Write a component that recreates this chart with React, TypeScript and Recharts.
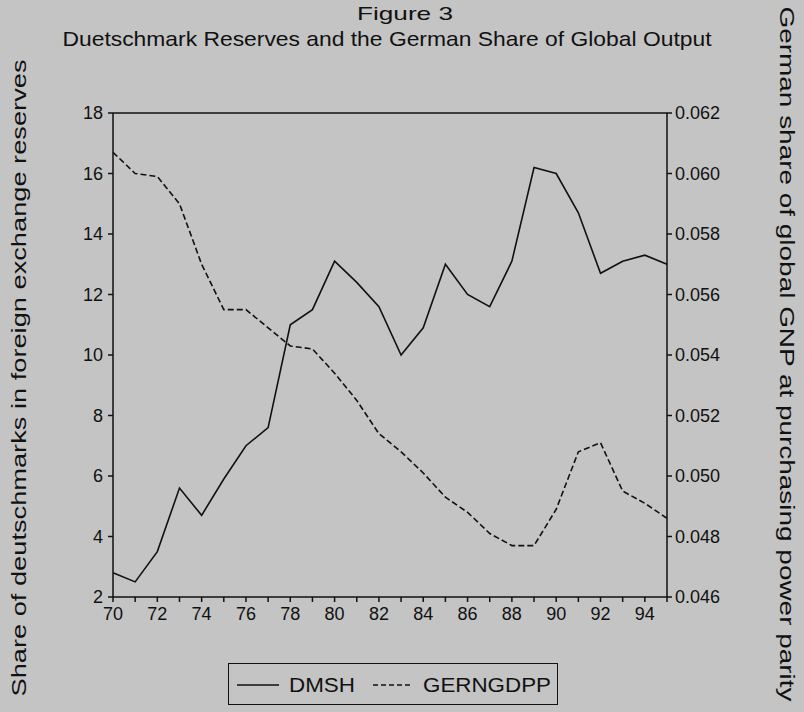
import { LineChart, Line, XAxis, YAxis, ReferenceLine } from 'recharts';

const years = [1970, 1971, 1972, 1973, 1974, 1975, 1976, 1977, 1978, 1979, 1980, 1981, 1982, 1983, 1984, 1985, 1986, 1987, 1988, 1989, 1990, 1991, 1992, 1993, 1994, 1995];

// share of deutschmarks in foreign exchange reserves (left axis)
const dmsh = [2.8, 2.5, 3.5, 5.6, 4.7, 5.9, 7.0, 7.6, 11.0, 11.5, 13.1, 12.4, 11.6, 10.0, 10.9, 13.0, 12.0, 11.6, 13.1, 16.2, 16.0, 14.7, 12.7, 13.1, 13.3, 13.0];

// German share of global GNP at PPP (right axis)
const gerngdpp = [0.0607, 0.06, 0.0599, 0.059, 0.057, 0.0555, 0.0555, 0.0549, 0.0543, 0.0542, 0.0534, 0.0525, 0.0514, 0.0508, 0.0501, 0.0493, 0.0488, 0.0481, 0.0477, 0.0477, 0.0489, 0.0508, 0.0511, 0.0495, 0.0491, 0.0486];

const leftTicks = [2, 4, 6, 8, 10, 12, 14, 16, 18];
const rightTicks = [0.046, 0.048, 0.05, 0.052, 0.054, 0.056, 0.058, 0.06, 0.062];
const labelledYears = [1970, 1972, 1974, 1976, 1978, 1980, 1982, 1984, 1986, 1988, 1990, 1992, 1994];

const data = years.map((y, i) => ({ year: y, DMSH: dmsh[i], GERNGDPP: gerngdpp[i] }));

const FONT = '"Liberation Sans", Arial, sans-serif';
const BG = '#c4c4c4';
const INK = '#111';

export default function App() {
  const tickStyle = { fill: INK, fontSize: 18, fontFamily: FONT };
  return (
    <div style={{ position: 'absolute', left: 0, top: 0, width: 804, height: 712, background: BG, overflow: 'hidden' }}>
      <LineChart
        width={804}
        height={712}
        data={data}
        margin={{ top: 113, right: 47, bottom: 85, left: 63 }}
      >
        <XAxis
          dataKey="year"
          type="number"
          domain={[1970, 1995]}
          ticks={years}
          interval={0}
          tickFormatter={(v: number) => (labelledYears.includes(v) ? String(v % 100) : '')}
          tick={tickStyle}
          stroke={INK}
          strokeWidth={1.5}
          tickSize={5}
          tickMargin={5}
          height={30}
        />
        <YAxis
          yAxisId="left"
          domain={[2, 18]}
          ticks={leftTicks}
          interval={0}
          tick={tickStyle}
          stroke={INK}
          strokeWidth={1.5}
          tickSize={5}
          tickMargin={5}
          width={50}
        />
        <YAxis
          yAxisId="right"
          orientation="right"
          domain={[0.046, 0.062]}
          ticks={rightTicks}
          interval={0}
          tickFormatter={(v: number) => v.toFixed(3)}
          tick={tickStyle}
          stroke={INK}
          strokeWidth={1.5}
          tickSize={5}
          tickMargin={3}
          width={90}
        />
        <ReferenceLine yAxisId="left" y={18} stroke={INK} strokeWidth={1.5} />
        <Line
          yAxisId="left"
          dataKey="DMSH"
          stroke={INK}
          strokeWidth={1.6}
          dot={false}
          type="linear"
          isAnimationActive={false}
        />
        <Line
          yAxisId="right"
          dataKey="GERNGDPP"
          stroke={INK}
          strokeWidth={1.6}
          strokeDasharray="6 3"
          dot={false}
          type="linear"
          isAnimationActive={false}
        />
      </LineChart>

      <svg width={804} height={712} style={{ position: 'absolute', left: 0, top: 0, pointerEvents: 'none' }}>
        <g fontFamily={FONT} fill={INK}>
          <text x={405} y={20} fontSize={19} textAnchor="middle" textLength={96} lengthAdjust="spacingAndGlyphs">
            Figure 3
          </text>
          <text x={387} y={46} fontSize={21} textAnchor="middle" textLength={649} lengthAdjust="spacingAndGlyphs">
            Duetschmark Reserves and the German Share of Global Output
          </text>
          <text
            transform="translate(26 378) rotate(-90)"
            fontSize={21}
            textAnchor="middle"
            textLength={637}
            lengthAdjust="spacingAndGlyphs"
          >
            Share of deutschmarks in foreign exchange reserves
          </text>
          <text
            transform="translate(780 354) rotate(90)"
            fontSize={21}
            textAnchor="middle"
            textLength={695}
            lengthAdjust="spacingAndGlyphs"
          >
            German share of global GNP at purchasing power parity
          </text>
        </g>
      </svg>

      <div
        style={{
          position: 'absolute',
          left: 228,
          top: 663,
          width: 330,
          height: 42,
          border: `1.5px solid ${INK}`,
          boxSizing: 'border-box',
        }}
      >
        <svg width={330} height={42} style={{ position: 'absolute', left: 0, top: 0 }}>
          <line x1={8} x2={50} y1={21} y2={21} stroke={INK} strokeWidth={1.5} />
          <text x={60} y={28} fontFamily={FONT} fontSize={20} fill={INK} textLength={66} lengthAdjust="spacingAndGlyphs">DMSH</text>
          <line x1={144} x2={184} y1={21} y2={21} stroke={INK} strokeWidth={1.5} strokeDasharray="5 3" />
          <text x={194} y={28} fontFamily={FONT} fontSize={20} fill={INK} textLength={128} lengthAdjust="spacingAndGlyphs">GERNGDPP</text>
        </svg>
      </div>
    </div>
  );
}
